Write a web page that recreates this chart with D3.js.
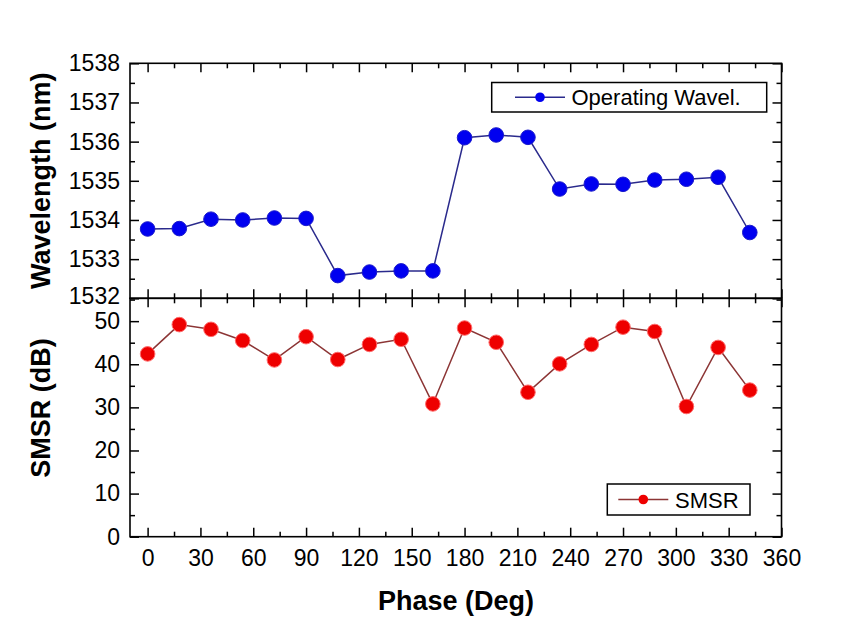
<!DOCTYPE html>
<html>
<head>
<meta charset="utf-8">
<script src="https://cdn.jsdelivr.net/npm/d3@7/dist/d3.min.js"></script>
<style>
  html, body { margin: 0; padding: 0; background: #fff; }
  svg { display: block; }
  text { font-family: "Liberation Sans", Arial, sans-serif; fill: #000; }
</style>
</head>
<body>
<svg id="chart" width="868" height="631"></svg>
<script>
// ---- data ----
const phase = [0, 18, 36, 54, 72, 90, 108, 126, 144, 162, 180, 198, 216, 234, 252, 270, 288, 306, 324, 342];
const wavelength = [1533.77, 1533.78, 1534.02, 1534.00, 1534.05, 1534.04, 1532.58, 1532.67, 1532.70, 1532.70,
                    1536.10, 1536.17, 1536.11, 1534.79, 1534.92, 1534.91, 1535.02, 1535.04, 1535.09, 1533.68];
const smsr = [42.4, 49.2, 48.1, 45.5, 41.0, 46.4, 41.1, 44.6, 45.8, 30.8,
              48.4, 45.1, 33.5, 40.1, 44.6, 48.6, 47.6, 30.2, 43.9, 34.0];
const xTicks = [0, 30, 60, 90, 120, 150, 180, 210, 240, 270, 300, 330, 360];
const xMinorTicks = [15, 45, 75, 105, 135, 165, 195, 225, 255, 285, 315, 345];
const wlTicks = [1532, 1533, 1534, 1535, 1536, 1537, 1538];
const wlMinorTicks = [1532.5, 1533.5, 1534.5, 1535.5, 1536.5, 1537.5];
const smsrTicks = [0, 10, 20, 30, 40, 50];
const smsrMinorTicks = [5, 15, 25, 35, 45, 55];
const xTitle = "Phase (Deg)";
const wlTitle = "Wavelength (nm)";
const smsrTitle = "SMSR (dB)";
const wlLegend = "Operating Wavel.";
const smsrLegend = "SMSR";

// ---- layout ----
const L = 130, R = 781.5, T1 = 63.3, B1 = 298.3, B2 = 536.7;
const svg = d3.select("#chart");

const x = d3.scaleLinear().domain([-10, 360]).range([L, R]);
const yW = d3.scaleLinear().domain([1532, 1538]).range([B1, T1]);
const yS = d3.scaleLinear().domain([0, 55.3]).range([B2, B1]);

const MAJ = 9, MIN = 5, FS = 23;

function addAxis(axisFn, scale, ticks, minor, transform, labels) {
  const g = svg.append("g").attr("transform", transform);
  g.call(axisFn(scale).tickValues(ticks).tickSizeInner(-MAJ).tickSizeOuter(0).tickPadding(10)
        .tickFormat(labels ? d3.format("d") : () => ""));
  const gm = svg.append("g").attr("transform", transform);
  gm.call(axisFn(scale).tickValues(minor).tickSizeInner(-MIN).tickSizeOuter(0).tickFormat(() => ""));
  [g, gm].forEach(a => {
    a.select(".domain").remove();
    a.selectAll(".tick line").attr("stroke", "#000").attr("stroke-width", 1.5);
    a.selectAll("text").attr("font-size", FS).attr("font-family", "Liberation Sans, Arial, sans-serif").attr("fill", "#000");
  });
  return g;
}

// top panel axes
addAxis(d3.axisTop, x, xTicks, xMinorTicks, `translate(0,${T1})`, false);
addAxis(d3.axisBottom, x, xTicks, xMinorTicks, `translate(0,${B1})`, false);
const wl = addAxis(d3.axisLeft, yW, wlTicks, wlMinorTicks, `translate(${L},0)`, true);
wl.selectAll(".tick").filter(d => d === 1532).select("text").attr("y", -2.5);
addAxis(d3.axisRight, yW, wlTicks, wlMinorTicks, `translate(${R},0)`, false);
// bottom panel axes
addAxis(d3.axisTop, x, xTicks, xMinorTicks, `translate(0,${B1})`, false);
const xb = addAxis(d3.axisBottom, x, xTicks, xMinorTicks, `translate(0,${B2})`, true);
xb.selectAll("text").attr("dy", "0.71em").attr("y", 13);
addAxis(d3.axisLeft, yS, smsrTicks, smsrMinorTicks.filter(d => d < 55.3), `translate(${L},0)`, true);
addAxis(d3.axisRight, yS, smsrTicks, smsrMinorTicks.filter(d => d < 55.3), `translate(${R},0)`, false);

// frames
svg.append("rect").attr("x", L).attr("y", T1).attr("width", R - L).attr("height", B1 - T1)
  .attr("fill", "none").attr("stroke", "#000").attr("stroke-width", 1.6);
svg.append("rect").attr("x", L).attr("y", B1).attr("width", R - L).attr("height", B2 - B1)
  .attr("fill", "none").attr("stroke", "#000").attr("stroke-width", 1.6);

// series
const wlData = phase.map((p, i) => ({ p, v: wavelength[i] }));
const smData = phase.map((p, i) => ({ p, v: smsr[i] }));

svg.append("path").datum(wlData)
  .attr("fill", "none").attr("stroke", "#2a2a8c").attr("stroke-width", 1.5)
  .attr("d", d3.line().x(d => x(d.p)).y(d => yW(d.v)));
svg.append("g").selectAll("circle").data(wlData).join("circle")
  .attr("cx", d => x(d.p)).attr("cy", d => yW(d.v)).attr("r", 7.3)
  .attr("fill", "#0000f0").attr("stroke", "#1a1acc").attr("stroke-width", 1);

svg.append("path").datum(smData)
  .attr("fill", "none").attr("stroke", "#8c3535").attr("stroke-width", 1.5)
  .attr("d", d3.line().x(d => x(d.p)).y(d => yS(d.v)));
svg.append("g").selectAll("circle").data(smData).join("circle")
  .attr("cx", d => x(d.p)).attr("cy", d => yS(d.v)).attr("r", 7.3)
  .attr("fill", "#ee0000").attr("stroke", "#ff6a6a").attr("stroke-width", 1);

// legends
function legend(bx, by, bw, bh, lx1, lx2, color, lineColor, label, tx) {
  const cy = by + bh / 2;
  svg.append("rect").attr("x", bx).attr("y", by).attr("width", bw).attr("height", bh)
    .attr("fill", "#fff").attr("stroke", "#000").attr("stroke-width", 1.5);
  svg.append("line").attr("x1", lx1).attr("x2", lx2).attr("y1", cy).attr("y2", cy)
    .attr("stroke", lineColor).attr("stroke-width", 1.5);
  svg.append("circle").attr("cx", (lx1 + lx2) / 2).attr("cy", cy).attr("r", 4.8).attr("fill", color);
  svg.append("text").attr("x", tx).attr("y", cy + 8).attr("font-size", 22).text(label);
}
legend(491.7, 82.5, 275, 29.5, 515, 565, "#0000f0", "#2a2a8c", wlLegend, 571.5);
legend(607.3, 484, 142.7, 31, 618.3, 668.3, "#ee0000", "#8c3535", smsrLegend, 675);

// axis titles
svg.append("text").attr("transform", `translate(50,${(T1 + B1) / 2}) rotate(-90)`)
  .attr("text-anchor", "middle").attr("font-size", 27).attr("font-weight", "bold").text(wlTitle);
svg.append("text").attr("transform", `translate(50,408) rotate(-90)`)
  .attr("text-anchor", "middle").attr("font-size", 27).attr("font-weight", "bold").text(smsrTitle);
svg.append("text").attr("x", 456).attr("y", 610)
  .attr("text-anchor", "middle").attr("font-size", 27).attr("font-weight", "bold").text(xTitle);
</script>
</body>
</html>
